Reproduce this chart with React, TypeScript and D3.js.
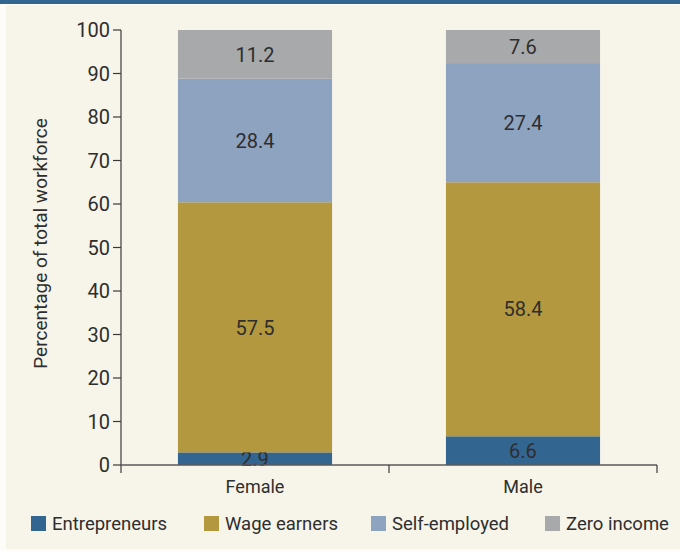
import React from "react";
import * as d3 from "d3";

const categories = ["Female", "Male"];
const seriesNames = ["Entrepreneurs", "Wage earners", "Self-employed", "Zero income"];
const entrepreneurs = [2.9, 6.6];
const wageEarners = [57.5, 58.4];
const selfEmployed = [28.4, 27.4];
const zeroIncome = [11.2, 7.6];
const yTicks = [0, 10, 20, 30, 40, 50, 60, 70, 80, 90, 100];

const colors = ["#336591", "#b39840", "#8ea3c0", "#a8a9ab"];

const W = 680;
const H = 551;
const margin = { top: 30, right: 23, bottom: 86, left: 121 };
const FONT = "Roboto, 'Open Sans', sans-serif";
const TEXT = "#2e2e2e";

export default function App() {
    const rows = categories.map((c, i) => ({
        category: c,
        "Entrepreneurs": entrepreneurs[i],
        "Wage earners": wageEarners[i],
        "Self-employed": selfEmployed[i],
        "Zero income": zeroIncome[i],
    }));
    const stacked = d3.stack<any>().keys(seriesNames)(rows);

    const x = d3
        .scaleBand()
        .domain(categories)
        .range([margin.left, W - margin.right])
        .padding(0);
    const y = d3
        .scaleLinear()
        .domain([0, 100])
        .range([H - margin.bottom, margin.top]);

    const barW = x.bandwidth() * 0.575;
    const y0 = y(0);

    // legend square x positions
    const legendX = [31, 204, 371, 545];

    return (
        <svg
            width={W}
            height={H}
            style={{ position: "absolute", left: 0, top: 0 }}
            fontFamily={FONT}
        >
            <rect x={0} y={0} width={W} height={H} fill="#fdfcf8" />
            <rect x={6} y={5} width={W - 6} height={H - 7} fill="#f7f4e9" />
            <rect x={0} y={0} width={W} height={4} fill="#336591" />

            {/* bars */}
            {stacked.map((s, si) => (
                <g key={s.key}>
                    {s.map((d, i) => {
                        const cx = (x(categories[i]) as number) + x.bandwidth() / 2;
                        const top = y(d[1]);
                        const bot = y(d[0]);
                        return (
                            <g key={i}>
                                <rect
                                    x={cx - barW / 2}
                                    y={top}
                                    width={barW}
                                    height={bot - top}
                                    fill={colors[si]}
                                />
                                <text
                                    x={cx}
                                    y={(top + bot) / 2}
                                    dy="0.36em"
                                    textAnchor="middle"
                                    fontSize={20}
                                    fill={TEXT}
                                >
                                    {(d[1] - d[0]).toFixed(1)}
                                </text>
                            </g>
                        );
                    })}
                </g>
            ))}

            {/* y axis */}
            <line x1={margin.left} x2={margin.left} y1={y(100)} y2={y0 + 8} stroke="#3a3a3a" strokeWidth={1.2} />
            {yTicks.map((t) => (
                <g key={t}>
                    <line x1={margin.left - 8} x2={margin.left} y1={y(t)} y2={y(t)} stroke="#3a3a3a" strokeWidth={1.2} />
                    <text
                        x={margin.left - 11}
                        y={y(t)}
                        dy="0.36em"
                        textAnchor="end"
                        fontSize={20}
                        fill={TEXT}
                    >
                        {t}
                    </text>
                </g>
            ))}

            {/* x axis */}
            <line x1={margin.left} x2={W - margin.right} y1={y0} y2={y0} stroke="#5a5a5a" strokeWidth={1.4} />
            {categories.slice(1).map((c) => (
                <line key={c} x1={x(c)} x2={x(c)} y1={y0} y2={y0 + 8} stroke="#3a3a3a" strokeWidth={1.2} />
            ))}
            <line x1={W - margin.right} x2={W - margin.right} y1={y0} y2={y0 + 8} stroke="#3a3a3a" strokeWidth={1.2} />
            {categories.map((c) => (
                <text
                    key={c}
                    x={(x(c) as number) + x.bandwidth() / 2}
                    y={y0 + 28}
                    textAnchor="middle"
                    fontSize={18}
                    fill={TEXT}
                >
                    {c}
                </text>
            ))}

            {/* y label */}
            <text
                transform={`translate(47, ${(y(0) + y(100)) / 2 - 4}) rotate(-90)`}
                textAnchor="middle"
                fontSize={19}
                fill={TEXT}
            >
                Percentage of total workforce
            </text>

            {/* legend */}
            {seriesNames.map((n, i) => (
                <g key={n}>
                    <rect x={legendX[i]} y={516} width={15} height={15} fill={colors[i]} />
                    <text x={legendX[i] + 21} y={530} fontSize={18.5} fill={TEXT}>
                        {n}
                    </text>
                </g>
            ))}
        </svg>
    );
}
